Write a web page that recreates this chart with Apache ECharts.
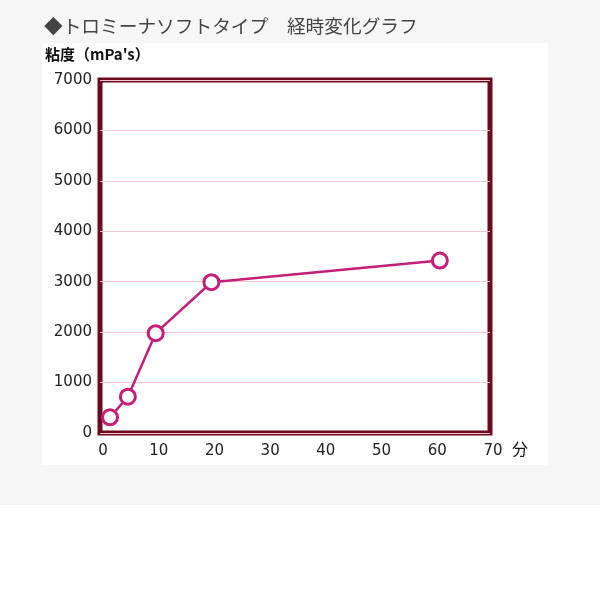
<!DOCTYPE html>
<html><head><meta charset="utf-8">
<script src="https://cdn.jsdelivr.net/npm/echarts@6/dist/echarts.min.js"></script>
<style>html,body{margin:0;padding:0;background:#fff}#c{width:600px;height:600px}</style>
</head><body><div id="c"></div>
<script>
const titleText = "◆トロミーナソフトタイプ　経時変化グラフ";
const yName = "粘度（mPa's）";
const xName = "分";
const minutes = [1.8, 5, 10, 20, 61];
const viscosity = [310, 720, 1980, 2990, 3420];
const xTicks = [0, 10, 20, 30, 40, 50, 60, 70];
const yTicks = [0, 1000, 2000, 3000, 4000, 5000, 6000, 7000];

const chart = echarts.init(document.getElementById('c'));
chart.setOption({
  backgroundColor: '#ffffff',
  animation: false,
  graphic: [
    {type:'rect', z:-10, shape:{x:0,y:0,width:600,height:505}, style:{fill:'#f6f6f6'}},
    {type:'rect', z:-9, shape:{x:42,y:43,width:506,height:422}, style:{fill:'#ffffff'}},
    {type:'text', left:44, top:17, style:{text:titleText, fill:'#444', font:'18.7px "Noto Sans CJK JP"'}},
    {type:'text', left:45, top:47, style:{text:yName, fill:'#111', font:'bold 15px "Noto Sans CJK JP"'}},
    {type:'text', left:512, top:441, style:{text:xName, fill:'#111', font:'16px "Noto Sans CJK JP"'}}
  ],
  grid: {left:100, top:80, right:110, bottom:167, show:true, borderColor:'#6e0a1e', borderWidth:5, backgroundColor:'transparent'},
  xAxis: {
    type:'value', min:xTicks[0], max:xTicks[xTicks.length-1], interval:10,
    axisLine:{show:false}, axisTick:{show:false}, splitLine:{show:false},
    axisLabel:{color:'#222', fontSize:15, fontFamily:'DejaVu Sans', margin:11,
      padding:[0,0,0,6], formatter:v=>String(v)}
  },
  yAxis: {
    type:'value', min:yTicks[0], max:yTicks[yTicks.length-1], interval:1000,
    axisLine:{show:false}, axisTick:{show:false},
    splitLine:{show:true, lineStyle:{color:'#f3c6d1', width:1}},
    axisLabel:{color:'#222', fontSize:15, fontFamily:'DejaVu Sans', margin:8,
      formatter:v=>String(v)}
  },
  series: [{
    type:'line',
    data: minutes.map((m,i)=>[m, viscosity[i]]),
    symbol:'circle', symbolSize:15,
    lineStyle:{color:'#c41f78', width:2.5},
    itemStyle:{color:'#ffffff', borderColor:'#c41f78', borderWidth:3},
    z:5
  }]
});
</script></body></html>
